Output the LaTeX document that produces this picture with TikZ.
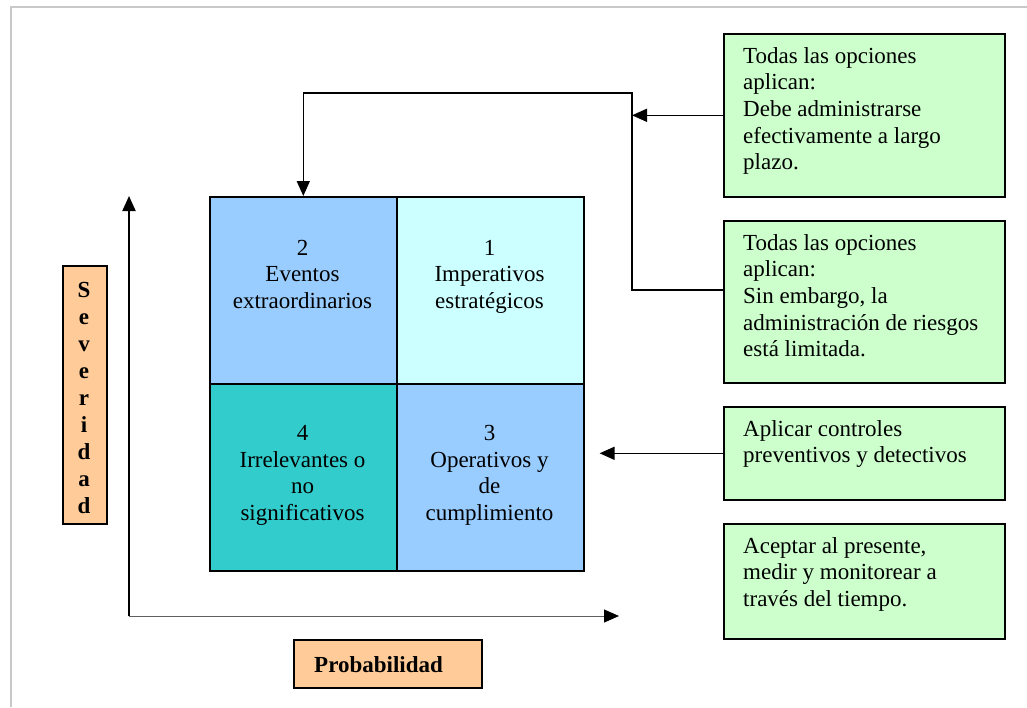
\documentclass[tikz,border=0pt]{standalone}
\usepackage{fontspec}
\setmainfont{Liberation Serif}
\usetikzlibrary{arrows.meta,calc}
\definecolor{qblue}{HTML}{99CCFF}
\definecolor{qcyan}{HTML}{CCFFFF}
\definecolor{qteal}{HTML}{33CCCC}
\definecolor{boxgreen}{HTML}{CCFFCC}
\definecolor{axislabel}{HTML}{FFCC99}
\definecolor{framegray}{HTML}{C8C8C8}
\definecolor{axisgray}{HTML}{606060}
% zero-width strut fixing the height of a first line
\newcommand{\firstline}{\rule{0pt}{16pt}}
\begin{document}
\begin{tikzpicture}[x=1pt,y=-1pt,
  txt/.style={font=\fontsize{23}{26.6}\selectfont, inner sep=0pt},
  boldtxt/.style={font=\fontsize{23}{27}\selectfont\bfseries, inner sep=0pt},
  quad/.style={draw=black, line width=1.6pt, minimum width=187pt, minimum height=187pt, inner sep=0pt, anchor=north west},
  note/.style={draw=black, line width=1.6pt, fill=boxgreen, minimum width=281pt, inner sep=0pt, anchor=north west},
  axisbox/.style={draw=black, line width=1.6pt, fill=axislabel, inner sep=0pt, anchor=north west},
  qtext/.style={txt, align=center, anchor=north},
  ntext/.style={txt, align=left, anchor=north west},
  conn/.style={line width=1.6pt},
  arr/.style={conn, -{Triangle[length=15pt,width=13pt]}},
]
\useasboundingbox (0,0) rectangle (1027,707);

% page frame
\draw[framegray, line width=2pt] (11,707) -- (11,7) -- (1027,7);

% risk matrix quadrants
\node[quad, fill=qblue] (q2) at (209,196) {};
\node[quad, fill=qcyan] (q1) at (396,196) {};
\node[quad, fill=qteal] (q4) at (209,383) {};
\node[quad, fill=qblue] (q3) at (396,383) {};

\node[qtext] (t2) at (302.5,239) {\firstline 2\\Eventos\\extraordinarios};
\node[qtext] (t1) at (489.5,239) {\firstline 1\\Imperativos\\estratégicos};
\node[qtext] (t4) at (302.5,424.5) {\firstline 4\\Irrelevantes o\\no\\significativos};
\node[qtext] (t3) at (489.5,424.5) {\firstline 3\\Operativos y\\de\\cumplimiento};

% response boxes
\node[note, minimum height=163pt] (b1) at (723,33) {};
\node[note, minimum height=162pt] (b2) at (723,220) {};
\node[note, minimum height=93pt] (b3) at (723,406) {};
\node[note, minimum height=115pt] (b4) at (723,523) {};

\node[ntext] (n1) at (743,47) {\firstline Todas las opciones\\aplican:\\Debe administrarse\\efectivamente a largo\\plazo.};
\node[ntext] (n2) at (743,234) {\firstline Todas las opciones\\aplican:\\Sin embargo, la\\administración de riesgos\\está limitada.};
\node[ntext] (n3) at (743,420) {\firstline Aplicar controles\\preventivos y detectivos};
\node[ntext] (n4) at (743,537) {\firstline Aceptar al presente,\\medir y monitorear a\\través del tiempo.};

% connectors
\coordinate (jtop) at (632,93);
\coordinate (jbot) at (632,290);
\draw[arr] (b1.west) -- (b1.west -| jtop);
\draw[arr] (b2.west |- jbot) -- (jbot) -- (jtop) -| (q2.north);
\coordinate (c3) at ($(q3.east |- b3.west)+(15,0)$);
\draw[arr] (b3.west) -- (c3);

% axes
\coordinate (origin) at (129,616);
\coordinate (ytip) at (129,196);
\coordinate (xtip) at (619,616);
\draw[arr, line width=2pt] (origin) -- (ytip);
\draw[axisgray, line width=1pt, -{Triangle[length=15pt,width=13pt,color=black]}] (origin) -- (xtip);

% axis labels
\node[axisbox, minimum width=44pt, minimum height=258pt] (sev) at (62,265) {};
\node[boldtxt, align=center, anchor=north] (sevt) at (84,281) {\firstline S\\e\\v\\e\\r\\i\\d\\a\\d};
\node[axisbox, minimum width=188pt, minimum height=48pt] (prob) at (293,639) {};
\node[boldtxt, anchor=base west] (probt) at (314,672) {Probabilidad};
\end{tikzpicture}
\end{document}
